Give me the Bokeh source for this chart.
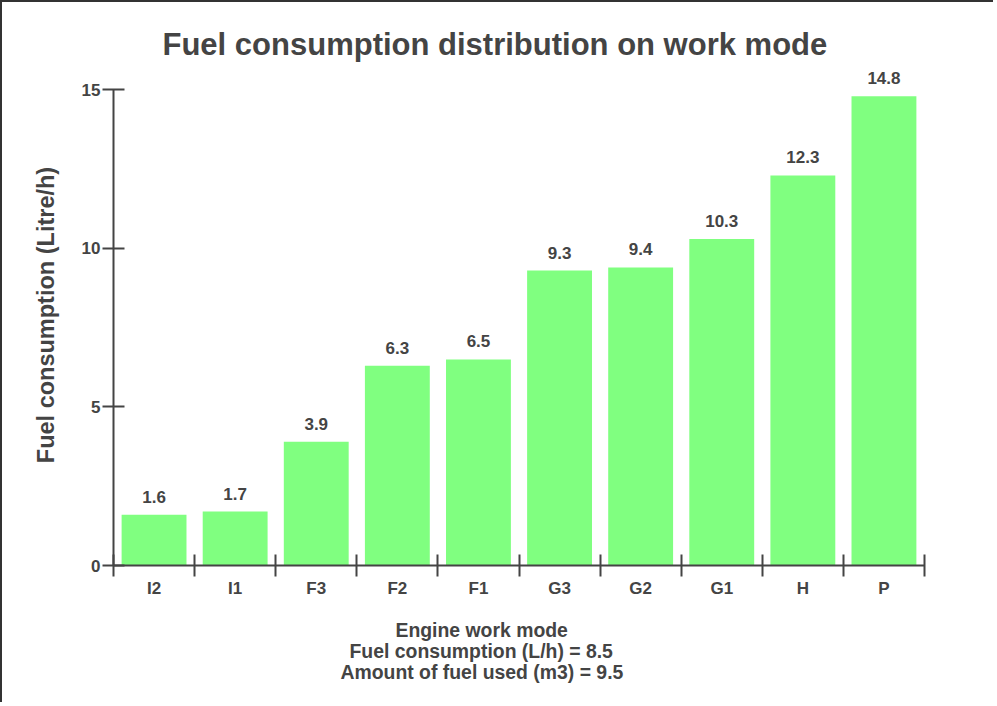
from bokeh.plotting import figure
from bokeh.models import ColumnDataSource, LabelSet, FixedTicker, Range1d, Title
from bokeh.core.properties import value
from bokeh.embed import file_html
from bokeh.resources import INLINE

categories = ["I2", "I1", "F3", "F2", "F1", "G3", "G2", "G1", "H", "P"]
consumption = [1.6, 1.7, 3.9, 6.3, 6.5, 9.3, 9.4, 10.3, 12.3, 14.8]
y_ticks = [0, 5, 10, 15]
title_text = "Fuel consumption distribution on work mode"
y_label = "Fuel consumption (Litre/h)"
x_label_lines = ["Engine work mode",
                 "Fuel consumption (L/h) = 8.5",
                 "Amount of fuel used (m3) = 9.5"]

FONT = "Liberation Sans"
INK = "#444444"

centers = [i + 0.5 for i in range(len(categories))]
bounds = list(range(len(categories) + 1))

src = ColumnDataSource(dict(
    x=centers,
    top=consumption,
    label=[f"{v}" for v in consumption],
))

p = figure(width=993, height=702, output_backend="svg", toolbar_location=None,
           x_range=Range1d(0, len(categories)), y_range=Range1d(0, 15.8),
           min_border_left=111, min_border_right=71,
           min_border_top=62, min_border_bottom=139)
p.outline_line_color = None
p.xgrid.grid_line_color = None
p.ygrid.grid_line_color = None
p.background_fill_color = "white"
p.border_fill_color = "white"
p.styles = {"border-top": "2px solid #333333", "border-left": "2px solid #333333"}

p.vbar(x="x", top="top", width=0.8, source=src,
       fill_color="#80FF80", line_color=None)

labels = LabelSet(x="x", y="top", text="label", source=src,
                  text_align="center", text_baseline="alphabetic", y_offset=12,
                  text_font=value(FONT), text_font_style="bold", text_font_size="17px",
                  text_color=INK)
p.add_layout(labels)

# title (left-aligned block, shifted so it sits where the reference has it)
p.title.text = title_text
p.title.align = "left"
p.title.offset = 49
p.title.text_font = FONT
p.title.text_font_size = "31px"
p.title.text_font_style = "bold"
p.title.text_color = INK
p.title.standoff = 6

# x axis
xa = p.xaxis[0]
xa.ticker = FixedTicker(ticks=centers, minor_ticks=bounds)
xa.major_label_overrides = {c: cat for c, cat in zip(centers, categories)}
xa.major_tick_line_color = None
xa.major_tick_out = 0
xa.major_tick_in = 0
xa.minor_tick_in = 11
xa.minor_tick_out = 11
xa.minor_tick_line_color = INK
xa.minor_tick_line_width = 2
xa.axis_line_color = INK
xa.axis_line_width = 2
xa.major_label_text_font = FONT
xa.major_label_text_font_style = "bold"
xa.major_label_text_font_size = "17px"
xa.major_label_text_color = INK
xa.major_label_standoff = 2
# an invisible one-character label only used as a spacer below the tick labels
xa.axis_label = " "
xa.axis_label_text_font_size = "1px"
xa.axis_label_standoff = 14

# y axis
ya = p.yaxis[0]
ya.ticker = FixedTicker(ticks=y_ticks, minor_ticks=[])
ya.bounds = (y_ticks[0], y_ticks[-1])
ya.major_tick_in = 11
ya.major_tick_out = 11
ya.major_tick_line_color = INK
ya.major_tick_line_width = 2
ya.axis_line_color = INK
ya.axis_line_width = 2
ya.major_label_text_font = FONT
ya.major_label_text_font_style = "bold"
ya.major_label_text_font_size = "17px"
ya.major_label_text_color = INK
ya.major_label_standoff = 2
ya.axis_label = y_label
ya.axis_label_text_font = FONT
ya.axis_label_text_font_style = "bold"
ya.axis_label_text_font_size = "23.5px"
ya.axis_label_text_color = INK
ya.axis_label_standoff = 20

# x "axis label": three centred lines below the axis
line_offsets = [282, 236, 227]
for txt, off in zip(x_label_lines, line_offsets):
    t = Title(text=txt, align="left", offset=off, standoff=-3.5,
              text_font=FONT, text_font_style="bold", text_font_size="19.4px",
              text_color=INK)
    p.add_layout(t, "below")

open("out.html", "w").write(file_html(p, INLINE))
